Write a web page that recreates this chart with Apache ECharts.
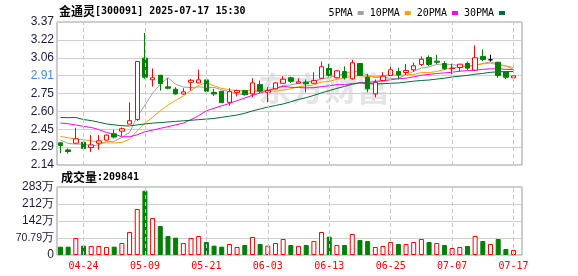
<!DOCTYPE html>
<html><head><meta charset="utf-8">
<script src="https://cdn.jsdelivr.net/npm/echarts@6/dist/echarts.min.js"></script>
<style>html,body{margin:0;padding:0;background:#fff}#c{width:578px;height:276px}</style>
</head><body><div id="c"></div>
<script>
const dates = ['04-21','04-22','04-23','04-24','04-25','04-28','04-29','04-30','05-06','05-07','05-08','05-09','05-12','05-13','05-14','05-15','05-16','05-19','05-20','05-21','05-22','05-23','05-26','05-27','05-28','05-29','05-30','06-03','06-04','06-05','06-06','06-09','06-10','06-11','06-12','06-13','06-16','06-17','06-18','06-19','06-20','06-23','06-24','06-25','06-26','06-27','06-30','07-01','07-02','07-03','07-04','07-07','07-08','07-09','07-10','07-11','07-14','07-15','07-16','07-17'];
const opens  = [2.331,2.270,2.328,2.336,2.290,2.328,2.354,2.408,2.431,2.492,2.532,3.059,2.873,2.912,2.812,2.791,2.751,2.852,2.846,2.872,2.765,2.774,2.679,2.763,2.780,2.752,2.832,2.765,2.795,2.843,2.890,2.843,2.852,2.843,2.886,2.970,2.890,2.944,2.881,3.013,2.895,2.752,2.866,2.910,2.944,2.936,2.959,3.005,3.065,3.033,3.013,2.968,2.979,3.013,2.956,3.074,3.045,3.024,2.942,2.890];
const closes = [2.308,2.256,2.365,2.282,2.313,2.348,2.397,2.380,2.452,2.521,3.030,2.895,2.890,2.840,2.800,2.751,2.769,2.869,2.872,2.774,2.751,2.676,2.771,2.780,2.745,2.846,2.774,2.780,2.846,2.878,2.860,2.855,2.838,2.866,2.985,2.912,2.950,2.890,3.019,2.910,2.795,2.852,2.904,2.959,2.915,2.953,2.993,3.050,3.005,3.024,2.968,2.973,3.007,2.973,3.062,3.048,3.045,2.910,2.895,2.907];
const lows   = [2.241,2.239,2.326,2.275,2.253,2.273,2.350,2.368,2.388,2.490,2.520,2.881,2.815,2.780,2.791,2.745,2.745,2.780,2.843,2.765,2.734,2.673,2.650,2.730,2.737,2.722,2.760,2.679,2.791,2.843,2.846,2.843,2.765,2.838,2.880,2.900,2.885,2.875,2.875,2.904,2.765,2.722,2.860,2.904,2.875,2.915,2.942,2.993,2.993,3.007,2.956,2.920,2.944,2.956,2.950,3.033,3.030,2.890,2.878,2.860];
const highs  = [2.335,2.282,2.460,2.345,2.397,2.397,2.400,2.443,2.463,2.679,3.030,3.275,2.970,2.912,2.886,2.809,2.800,2.878,2.961,2.872,2.795,2.774,2.800,2.789,2.786,2.886,2.866,2.809,2.852,2.904,2.900,2.886,2.875,2.938,3.030,3.010,2.955,2.988,3.045,3.013,2.924,2.875,2.938,2.996,2.976,3.010,3.020,3.074,3.082,3.088,3.033,3.010,3.007,3.030,3.169,3.134,3.088,3.024,2.942,2.907];
const volumes = [347000,347000,708000,389000,375000,375000,333000,347000,500000,958000,1916000,2679000,1540000,1208000,791000,722000,500000,708000,791000,541000,389000,347000,458000,333000,416000,750000,458000,389000,500000,666000,416000,380000,416000,583000,958000,763000,416000,416000,874000,625000,583000,333000,375000,541000,458000,458000,541000,666000,541000,500000,416000,291000,333000,375000,791000,583000,458000,666000,250000,209841];
const volUp = [0,0,1,0,1,1,1,0,1,1,1,0,1,0,0,0,1,1,1,0,0,0,1,1,0,1,0,1,1,1,0,1,0,1,1,0,1,0,1,0,0,1,1,1,0,1,1,1,0,1,0,1,1,0,1,0,1,0,0,1];
const ma5  = [2.354,2.325,2.320,2.320,2.305,2.313,2.341,2.344,2.378,2.420,2.556,2.656,2.758,2.835,2.891,2.835,2.810,2.806,2.812,2.807,2.807,2.788,2.769,2.750,2.745,2.764,2.783,2.785,2.798,2.825,2.828,2.844,2.855,2.859,2.881,2.891,2.910,2.921,2.951,2.936,2.913,2.893,2.896,2.884,2.885,2.917,2.945,2.974,2.983,3.005,3.008,3.004,2.995,2.989,2.997,3.013,3.027,3.008,2.992,2.961];
const ma10 = [2.386,2.374,2.363,2.357,2.348,2.334,2.330,2.330,2.334,2.362,2.434,2.498,2.551,2.607,2.655,2.696,2.733,2.782,2.824,2.849,2.821,2.799,2.787,2.781,2.776,2.785,2.786,2.777,2.774,2.785,2.796,2.814,2.820,2.829,2.853,2.859,2.877,2.888,2.905,2.909,2.902,2.902,2.908,2.918,2.911,2.915,2.919,2.935,2.934,2.945,2.962,2.974,2.985,2.986,3.001,3.010,3.016,3.002,2.991,2.979];
const ma20 = [2.501,2.495,2.484,2.472,2.463,2.445,2.420,2.406,2.383,2.383,2.400,2.426,2.440,2.455,2.470,2.485,2.500,2.530,2.565,2.606,2.628,2.649,2.669,2.694,2.716,2.740,2.759,2.779,2.799,2.817,2.808,2.806,2.804,2.805,2.814,2.822,2.831,2.832,2.840,2.847,2.849,2.858,2.864,2.873,2.882,2.887,2.898,2.912,2.919,2.927,2.932,2.938,2.947,2.952,2.956,2.963,2.967,2.968,2.962,2.962];
const ma30 = [2.549,2.547,2.549,2.531,2.522,2.508,2.493,2.485,2.478,2.476,2.485,2.493,2.500,2.505,2.510,2.515,2.520,2.525,2.530,2.535,2.540,2.550,2.560,2.570,2.585,2.605,2.622,2.638,2.652,2.665,2.684,2.704,2.719,2.739,2.761,2.780,2.799,2.816,2.834,2.847,2.840,2.838,2.839,2.843,2.846,2.853,2.861,2.867,2.871,2.879,2.887,2.897,2.904,2.911,2.921,2.928,2.937,2.942,2.943,2.944];
const xTickIdx = [3,11,19,27,35,43,51,59];
const volTickLabels = ['0','{s|70.79}{w|万}','142万','212万','283万'];
const maNames = ['5PMA','10PMA','20PMA','30PMA'];
const maColors = ['#a0a0a0','#f5a300','#ff00ff','#006e32'];

const chart = echarts.init(document.getElementById('c'));
const candleData = dates.map((d,i)=>{
  const it = {value:[i, opens[i], closes[i], lows[i], highs[i]]};
  if (opens[i] === closes[i]) it.itemStyle = {color:'#000',color0:'#000',borderColor:'#000',borderColor0:'#000'};
  return it;
});
const volData = volumes.map((v,i)=>({value:[i,v], itemStyle: volUp[i] ? {color:'#fff',borderColor:'#ff0000',borderWidth:1} : {color:'#008000',borderColor:'#008000',borderWidth:1}}));
const maSeries = [ma5,ma10,ma20,ma30].map((arr,k)=>({
  name: maNames[k], type:'line', xAxisIndex:0, yAxisIndex:0,
  data: arr.map((v,i)=>[i,v]), showSymbol:false, symbol:'none', smooth:false,
  lineStyle:{width:1,color:maColors[k]}, itemStyle:{color:maColors[k]}, z:3
}));
const vLines = (xi, yi)=>({type:'line', xAxisIndex:xi, yAxisIndex:yi, data:[], z:1, silent:true,
  markLine:{silent:true, symbol:'none', animation:false, label:{show:false},
    lineStyle:{color:'#c8c8c8', type:[4,3], width:1}, data:xTickIdx.map(v=>({xAxis:v}))}});
const mono = 'DejaVu Sans Mono';
const cjk = 'Noto Sans CJK SC';
chart.setOption({
  animation:false,
  title:[
    {left:54, top:0, text:'{c|金通灵}{a|[300091] 2025-07-17 15:30}', textStyle:{rich:{c:{fontSize:12,fontFamily:cjk,color:'#000'},a:{fontSize:10,fontFamily:mono,color:'#000'}}}},
    {left:56, top:166, text:'{c|成交量}{a|:209841}', textStyle:{rich:{c:{fontSize:12,fontFamily:cjk,color:'#000'},a:{fontSize:10,fontFamily:mono,color:'#000'}}}}
  ],
  legend:{right:68, top:3, align:'right', icon:'rect', itemWidth:6, itemHeight:4, itemGap:6,
    textStyle:{fontSize:10,fontFamily:mono,color:'#000'}, data:maNames},
  graphic:[{type:'text', left:258, top:72, z:0, silent:true,
    style:{text:'东方财富', font:'bold 33px "Noto Sans CJK SC"', fill:'rgba(170,170,188,0.32)'}}],
  grid:[
    {left:57, right:56, top:22, height:143, show:true, borderColor:'#999', borderWidth:1},
    {left:57, right:56, top:187, height:68, show:true, borderColor:'#999', borderWidth:1}
  ],
  xAxis:[
    {type:'value', gridIndex:0, min:-0.45, max:60.1, axisLine:{show:false},
     axisTick:{show:false}, axisLabel:{show:false}, splitLine:{show:false}},
    {type:'value', gridIndex:1, min:-0.45, max:60.1, axisLine:{show:false},
     axisTick:{show:false, customValues:xTickIdx},
     axisLabel:{show:true, customValues:xTickIdx, formatter:v=>dates[Math.round(v)], color:'#ff0000', fontSize:10, fontFamily:mono, margin:6},
     splitLine:{show:false}}
  ],
  yAxis:[
    {type:'value', gridIndex:0, min:2.14, max:3.37, interval:0.15375, axisLine:{show:false}, axisTick:{show:false},
     axisLabel:{fontSize:12, fontFamily:'Liberation Sans', color:'#1a1a40', margin:3,
       formatter:v=>{const s=v.toFixed(2); return s==='2.91' ? '{b|'+s+'}' : s;}, rich:{b:{color:'#3a8ee6',fontSize:12,fontFamily:'Liberation Sans'}}},
     splitLine:{lineStyle:{color:'#cfcfcf'}}},
    {type:'value', gridIndex:1, min:0, max:2831600, interval:707900, axisLine:{show:false}, axisTick:{show:false},
     axisLabel:{fontSize:12, fontFamily:'Liberation Sans', color:'#1a1a40', margin:3,
       formatter:v=>volTickLabels[Math.round(v/707900)],
       rich:{s:{fontSize:10.5,fontFamily:'Liberation Sans',color:'#1a1a40'}, w:{fontSize:12,fontFamily:'Liberation Sans',color:'#1a1a40'}}},
     splitLine:{lineStyle:{color:'#cfcfcf'}}}
  ],
  series:[
    vLines(0,0), vLines(1,1),
    {type:'candlestick', xAxisIndex:0, yAxisIndex:0, data:candleData, encode:{x:0,y:[1,2,3,4]}, barWidth:5,
     itemStyle:{color:'#fff', color0:'#008000', borderColor:'#ff0000', borderColor0:'#008000', borderWidth:1}, z:4},
    ...maSeries,
    {type:'bar', xAxisIndex:1, yAxisIndex:1, data:volData, barWidth:5, z:3}
  ]
});
</script></body></html>
